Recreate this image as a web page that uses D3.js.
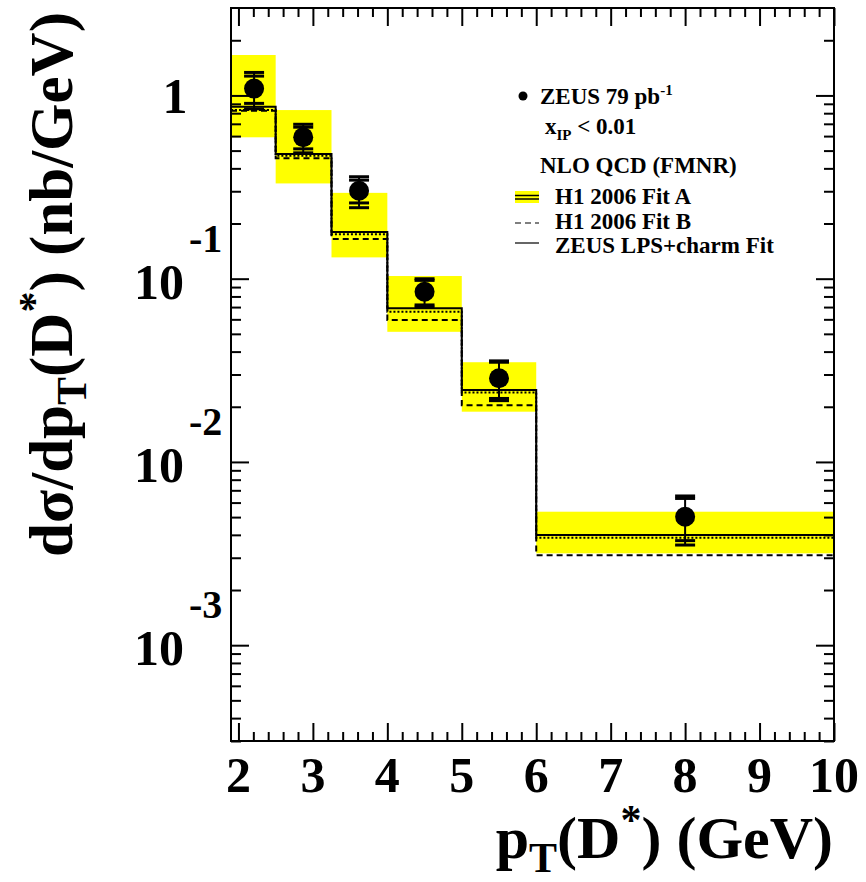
<!DOCTYPE html>
<html>
<head>
<meta charset="utf-8">
<script src="https://cdn.jsdelivr.net/npm/d3@7"></script>
<style>
  body { margin: 0; background: #fff; }
  svg text { font-family: "Liberation Serif", "Times New Roman", serif; font-weight: bold; }
</style>
</head>
<body>
<svg id="chart" width="866" height="882"></svg>
<script>
// bins in pT(D*) (GeV)
var binEdges = [1.9, 2.5, 3.25, 4, 5, 6, 10];
// ZEUS data points
var ptCenters = [2.21, 2.87, 3.62, 4.5, 5.5, 8.0];
var sigma = [1.09, 0.591, 0.302, 0.0849, 0.0286, 0.00502];
var statErr = [0.185, 0.08, 0.043, 0.013, 0.0064, 0.0013];
var totErr = [0.245, 0.105, 0.058, 0.015, 0.007, 0.0015];
// NLO QCD (FMNR) predictions
var fitAHi = [1.662, 0.832, 0.294, 0.1034, 0.0350, 0.00535];
var fitALo = [0.591, 0.331, 0.1307, 0.0513, 0.0188, 0.00317];
var fitA = [0.832, 0.469, 0.175, 0.0661, 0.0239, 0.00386];
var fitB = [0.825, 0.454, 0.1646, 0.0595, 0.0204, 0.0031];
var zeusLPS = [0.868, 0.479, 0.180, 0.0689, 0.0247, 0.00399];

var xMajor = [2, 3, 4, 5, 6, 7, 8, 9, 10];
var yMajor = [1, 0.1, 0.01, 0.001];

var svg = d3.select("#chart");

var x = d3.scaleLinear().domain([1.9, 10]).range([231, 834]);
var y = d3.scaleLog().domain([3e-4, 3]).range([741, 8]);

var bins = [];
for (var i = 0; i < binEdges.length - 1; i++) {
  bins.push({lo: binEdges[i], hi: binEdges[i + 1], aHi: fitAHi[i], aLo: fitALo[i],
    a: fitA[i], b: fitB[i], z: zeusLPS[i]});
}

// yellow uncertainty band of Fit A
svg.append("g").selectAll("rect")
  .data(bins)
  .enter().append("rect")
  .attr("x", function(d) { return x(d.lo); })
  .attr("width", function(d) { return x(d.hi) - x(d.lo); })
  .attr("y", function(d) { return y(d.aHi); })
  .attr("height", function(d) { return y(d.aLo) - y(d.aHi); })
  .style("fill", "#ffff00");

// step histograms
function stepPath(key) {
  var pts = [];
  bins.forEach(function(d) {
    pts.push([x(d.lo), y(d[key])]);
    pts.push([x(d.hi), y(d[key])]);
  });
  return d3.line()(pts);
}

svg.append("path").attr("d", stepPath("a"))
  .style("fill", "none").style("stroke", "#000").style("stroke-width", 2)
  .style("stroke-dasharray", "2,2");
svg.append("path").attr("d", stepPath("b"))
  .style("fill", "none").style("stroke", "#000").style("stroke-width", 2)
  .style("stroke-dasharray", "6,4");
svg.append("path").attr("d", stepPath("z"))
  .style("fill", "none").style("stroke", "#000").style("stroke-width", 2);

// data points with inner (stat) and outer (total) errors
var pts = ptCenters.map(function(p, i) {
  return {x: p, v: sigma[i], s: statErr[i], t: totErr[i]};
});
var pg = svg.append("g").selectAll("g").data(pts).enter().append("g");
pg.append("line")
  .attr("x1", function(d) { return x(d.x); })
  .attr("x2", function(d) { return x(d.x); })
  .attr("y1", function(d) { return y(d.v + d.t); })
  .attr("y2", function(d) { return y(d.v - d.t); })
  .style("stroke", "#000").style("stroke-width", 2);
[["s", 1], ["s", -1], ["t", 1], ["t", -1]].forEach(function(c) {
  pg.append("line")
    .attr("x1", function(d) { return x(d.x) - 10; })
    .attr("x2", function(d) { return x(d.x) + 10; })
    .attr("y1", function(d) { return y(d.v + c[1] * d[c[0]]); })
    .attr("y2", function(d) { return y(d.v + c[1] * d[c[0]]); })
    .style("stroke", "#000").style("stroke-width", 3);
});
pg.append("circle")
  .attr("cx", function(d) { return x(d.x); })
  .attr("cy", function(d) { return y(d.v); })
  .attr("r", 10)
  .style("fill", "#000");

// frame ticks on all four sides
var xMinor = d3.range(2, 10.001, 0.2).filter(function(v) {
  return Math.abs(v - Math.round(v)) > 0.01;
});
var yMinor = [];
for (var e = -4; e <= 0; e++) {
  for (var k = 2; k <= 9; k++) {
    var v = k * Math.pow(10, e);
    if (v > 3e-4 && v < 3) yMinor.push(v);
  }
}

function tickStyle(g) {
  g.select(".domain").remove();
  g.selectAll("line").style("stroke", "#000").style("stroke-width", 2);
}
function addAxis(axis, tx, ty) {
  svg.append("g").attr("transform", "translate(" + tx + "," + ty + ")").call(axis).call(tickStyle);
}
addAxis(d3.axisBottom(x).tickValues(xMajor).tickSize(-18).tickFormat(""), 0, 741);
addAxis(d3.axisBottom(x).tickValues(xMinor).tickSize(-9).tickFormat(""), 0, 741);
addAxis(d3.axisTop(x).tickValues(xMajor).tickSize(-18).tickFormat(""), 0, 8);
addAxis(d3.axisTop(x).tickValues(xMinor).tickSize(-9).tickFormat(""), 0, 8);
addAxis(d3.axisLeft(y).tickValues(yMajor).tickSize(-18).tickFormat(""), 231, 0);
addAxis(d3.axisLeft(y).tickValues(yMinor).tickSize(-10).tickFormat(""), 231, 0);
addAxis(d3.axisRight(y).tickValues(yMajor).tickSize(-18).tickFormat(""), 834, 0);
addAxis(d3.axisRight(y).tickValues(yMinor).tickSize(-10).tickFormat(""), 834, 0);

svg.append("rect")
  .attr("x", 231).attr("y", 8).attr("width", 603).attr("height", 733)
  .style("fill", "none").style("stroke", "#000").style("stroke-width", 2);

// tick labels
svg.append("g").selectAll("text")
  .data(xMajor)
  .enter().append("text")
  .attr("x", function(d) { return x(d); })
  .attr("y", 792)
  .attr("text-anchor", "middle")
  .style("font-size", "50px")
  .text(function(d) { return d; });

yMajor.forEach(function(v) {
  var ex = Math.round(Math.log10(v));
  if (ex === 0) {
    svg.append("text").attr("x", 175).attr("y", y(v) + 18)
      .attr("text-anchor", "middle").style("font-size", "50px").text("1");
  } else {
    svg.append("text").attr("x", 184).attr("y", y(v) + 20)
      .attr("text-anchor", "end").style("font-size", "50px").text("10");
    svg.append("text").attr("x", 189).attr("y", y(v) - 27)
      .attr("text-anchor", "start").style("font-size", "40px").text("-" + Math.abs(ex));
  }
});

// axis titles
var yt = svg.append("text")
  .attr("transform", "translate(72,12) rotate(-90)")
  .attr("text-anchor", "end")
  .style("font-size", "61px");
yt.append("tspan").text("dσ/dp");
yt.append("tspan").attr("dy", 14).style("font-size", "42px").text("T");
yt.append("tspan").attr("dy", -14).text("(D");
yt.append("tspan").attr("dy", -24).style("font-size", "42px").text("*");
yt.append("tspan").attr("dy", 24).text(") (nb/GeV)");

var xt = svg.append("text")
  .attr("x", 833).attr("y", 858)
  .attr("text-anchor", "end")
  .style("font-size", "60px");
xt.append("tspan").text("p");
xt.append("tspan").attr("dy", 14).style("font-size", "42px").text("T");
xt.append("tspan").attr("dy", -14).text("(D");
xt.append("tspan").attr("dy", -24).style("font-size", "42px").text("*");
xt.append("tspan").attr("dy", 24).text(") (GeV)");

// legend
var lg = svg.append("g").style("font-size", "23px");
lg.append("circle").attr("cx", 523).attr("cy", 96).attr("r", 4.5).style("fill", "#000");
var t1 = lg.append("text").attr("x", 540).attr("y", 104);
t1.append("tspan").text("ZEUS 79 pb");
t1.append("tspan").attr("dy", -9).style("font-size", "15px").text("-1");
var t2 = lg.append("text").attr("x", 545).attr("y", 134);
t2.append("tspan").text("x");
t2.append("tspan").attr("dy", 6).style("font-size", "15px").text("IP");
t2.append("tspan").attr("dy", -6).text(" < 0.01");
lg.append("text").attr("x", 540).attr("y", 173).text("NLO QCD (FMNR)");

lg.append("rect").attr("x", 515).attr("y", 191).attr("width", 24).attr("height", 12).style("fill", "#ffff00");
lg.append("line").attr("x1", 515).attr("x2", 539).attr("y1", 195.5).attr("y2", 195.5)
  .style("stroke", "#000").style("stroke-width", 1.5);
lg.append("line").attr("x1", 515).attr("x2", 539).attr("y1", 199).attr("y2", 199)
  .style("stroke", "#000").style("stroke-width", 1.5);
lg.append("text").attr("x", 555).attr("y", 204).text("H1 2006 Fit A");

lg.append("line").attr("x1", 515).attr("x2", 539).attr("y1", 223).attr("y2", 223)
  .style("stroke", "#000").style("stroke-width", 1.2).style("stroke-dasharray", "6,4");
lg.append("text").attr("x", 555).attr("y", 229).text("H1 2006 Fit B");

lg.append("line").attr("x1", 515).attr("x2", 539).attr("y1", 243).attr("y2", 243)
  .style("stroke", "#000").style("stroke-width", 1.2);
lg.append("text").attr("x", 555).attr("y", 253).text("ZEUS LPS+charm Fit");
</script>
</body>
</html>
